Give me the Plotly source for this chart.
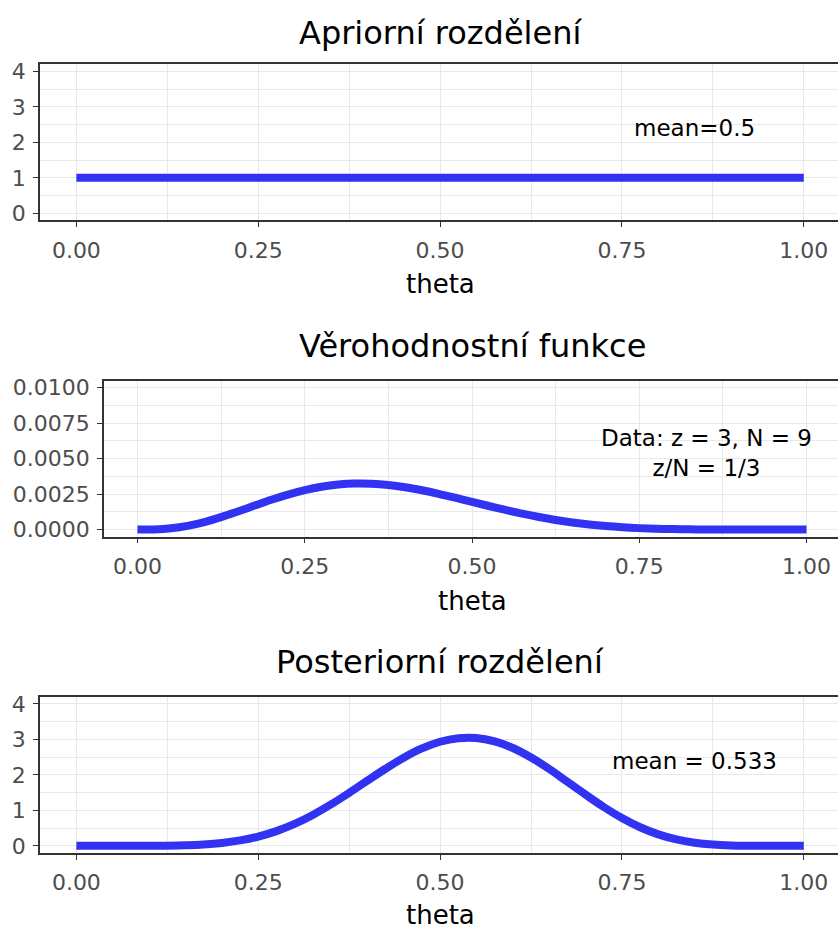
import plotly.graph_objects as go

# ---------------- data ----------------
theta = [0.000, 0.025, 0.050, 0.075, 0.100, 0.125, 0.150, 0.175, 0.200, 0.225,
         0.250, 0.275, 0.300, 0.325, 0.350, 0.375, 0.400, 0.425, 0.450, 0.475,
         0.500, 0.525, 0.550, 0.575, 0.600, 0.625, 0.650, 0.675, 0.700, 0.725,
         0.750, 0.775, 0.800, 0.825, 0.850, 0.875, 0.900, 0.925, 0.950, 0.975, 1.000]

prior_theta = [0.0, 1.0]
prior_density = [1.0, 1.0]

likelihood = [0.0, 0.0000134, 0.0000919, 0.000264, 0.000531, 0.000877, 0.001273, 0.00169,
              0.002097, 0.002468, 0.002781, 0.003021, 0.003177, 0.00325, 0.003234, 0.003143,
              0.002986, 0.002771, 0.002522, 0.002244, 0.001953, 0.001662, 0.001382, 0.00112,
              0.000885, 0.000679, 0.000505, 0.000362, 0.00025, 0.000165, 0.000103, 0.0000604,
              0.0000328, 0.0000161, 0.000007, 0.0000026, 0.0000007, 0.0000001, 0.0, 0.0, 0.0]

posterior = [0.0, 0.0, 0.00001, 0.0002, 0.0013, 0.0051, 0.0155, 0.0381, 0.0806, 0.152,
             0.261, 0.415, 0.618, 0.871, 1.166, 1.493, 1.836, 2.172, 2.485, 2.744,
             2.933, 3.033, 3.038, 2.941, 2.756, 2.489, 2.166, 1.805, 1.442, 1.094,
             0.783, 0.523, 0.323, 0.1795, 0.0877, 0.036, 0.0115, 0.0025, 0.0003, 0.0, 0.0]

x_tickvals = [0, 0.25, 0.5, 0.75, 1.0]
x_ticktext = ["0.00", "0.25", "0.50", "0.75", "1.00"]
x_minor = [0.125, 0.375, 0.625, 0.875]

y_density_ticks = [0, 1, 2, 3, 4]
y_density_minor = [0.5, 1.5, 2.5, 3.5]
y_like_ticks = [0, 0.0025, 0.005, 0.0075, 0.01]
y_like_text = ["0.0000", "0.0025", "0.0050", "0.0075", "0.0100"]
y_like_minor = [0.00125, 0.00375, 0.00625, 0.00875]

titles = ["Apriorní rozdělení", "Věrohodnostní funkce", "Posteriorní rozdělení"]
prior_label = "mean=0.5"
like_label = "Data: z = 3, N = 9<br>z/N = 1/3"
post_label = "mean = 0.533"

# ---------------- styling ----------------
W, H = 838, 937
FONT = "DejaVu Sans"
LINE_COLOR = "#3232F2"
BORDER = "#333333"
GRID = "#E8E8E8"
TICKTXT = "#4D4D4D"
TICK_SIZE = 22

def py(px):
    return 1 - px / H

# panel pixel boxes: (left, top, bottom)
panels = [(40, 60, 218), (104, 380, 538), (40, 700, 858)]

fig = go.Figure()

fig.add_trace(go.Scatter(x=prior_theta, y=prior_density, mode="lines",
                         line=dict(color=LINE_COLOR, width=8), xaxis="x", yaxis="y",
                         showlegend=False))
fig.add_trace(go.Scatter(x=theta, y=likelihood, mode="lines",
                         line=dict(color=LINE_COLOR, width=8, shape="spline"),
                         xaxis="x2", yaxis="y2", showlegend=False))
fig.add_trace(go.Scatter(x=theta, y=posterior, mode="lines",
                         line=dict(color=LINE_COLOR, width=8, shape="spline"),
                         xaxis="x3", yaxis="y3", showlegend=False))

def xaxis(left, anchor):
    return dict(
        domain=[left / W, 1.0], range=[-0.05, 1.047], anchor=anchor,
        tickvals=x_tickvals, ticktext=x_ticktext,
        showgrid=True, gridcolor=GRID, gridwidth=1.3,
        minor=dict(tickvals=x_minor, showgrid=True, gridcolor=GRID, gridwidth=0.7, ticks=""),
        showline=True, linecolor=BORDER, linewidth=1.5, mirror=True,
        ticks="outside", ticklen=5, tickwidth=1.3, tickcolor=BORDER,
        tickfont=dict(family=FONT, size=TICK_SIZE, color=TICKTXT), ticklabelstandoff=4,
        zeroline=False, fixedrange=True,
    )

def yaxis(top, bottom, anchor, rng, tickvals, minor, ticktext=None):
    d = dict(
        domain=[py(bottom), py(top)], range=rng, anchor=anchor,
        tickvals=tickvals,
        showgrid=True, gridcolor=GRID, gridwidth=1.3,
        minor=dict(tickvals=minor, showgrid=True, gridcolor=GRID, gridwidth=0.7, ticks=""),
        showline=True, linecolor=BORDER, linewidth=1.5, mirror=False,
        ticks="outside", ticklen=5, tickwidth=1.3, tickcolor=BORDER,
        tickfont=dict(family=FONT, size=TICK_SIZE, color=TICKTXT), ticklabelstandoff=3,
        zeroline=False, fixedrange=True,
    )
    if ticktext is not None:
        d["ticktext"] = ticktext
    return d

(l1, t1, b1), (l2, t2, b2), (l3, t3, b3) = panels

fig.update_layout(
    width=W, height=H,
    margin=dict(l=0, r=0, t=0, b=0),
    paper_bgcolor="white", plot_bgcolor="white",
    font=dict(family=FONT, color="black"),
    xaxis=xaxis(l1, "y"),
    yaxis=yaxis(t1, b1, "x", [-0.2, 4.2], y_density_ticks, y_density_minor),
    xaxis2=xaxis(l2, "y2"),
    yaxis2=yaxis(t2, b2, "x2", [-0.0005, 0.0105], y_like_ticks, y_like_minor, y_like_text),
    xaxis3=xaxis(l3, "y3"),
    yaxis3=yaxis(t3, b3, "x3", [-0.2, 4.2], y_density_ticks, y_density_minor),
    showlegend=False,
)

annotations = []
# panel titles and axis titles
title_y = [28, 345, 665]
axis_title_y = [282, 603, 921]
for (left, top, bottom), ttl, ty, ay in zip(panels, titles, title_y, axis_title_y):
    cx = (left + 840) / 2 / W
    annotations.append(dict(text=ttl, x=cx, y=py(ty), xref="paper", yref="paper",
                            xanchor="center", yanchor="middle", showarrow=False,
                            font=dict(family=FONT, size=32, color="black")))
    annotations.append(dict(text="theta", x=cx, y=py(ay), xref="paper", yref="paper",
                            xanchor="center", yanchor="middle", showarrow=False,
                            font=dict(family=FONT, size=26, color="black")))

annotations.append(dict(text=prior_label, x=0.85, y=2.4, xref="x", yref="y",
                        showarrow=False, font=dict(family=FONT, size=23, color="black")))
annotations.append(dict(text=like_label, x=0.85, y=0.0054, xref="x2", yref="y2",
                        showarrow=False, align="center",
                        font=dict(family=FONT, size=23, color="black")))
annotations.append(dict(text=post_label, x=0.85, y=2.4, xref="x3", yref="y3",
                        showarrow=False, font=dict(family=FONT, size=23, color="black")))
fig.update_layout(annotations=annotations)

fig.write_html("out.html")
